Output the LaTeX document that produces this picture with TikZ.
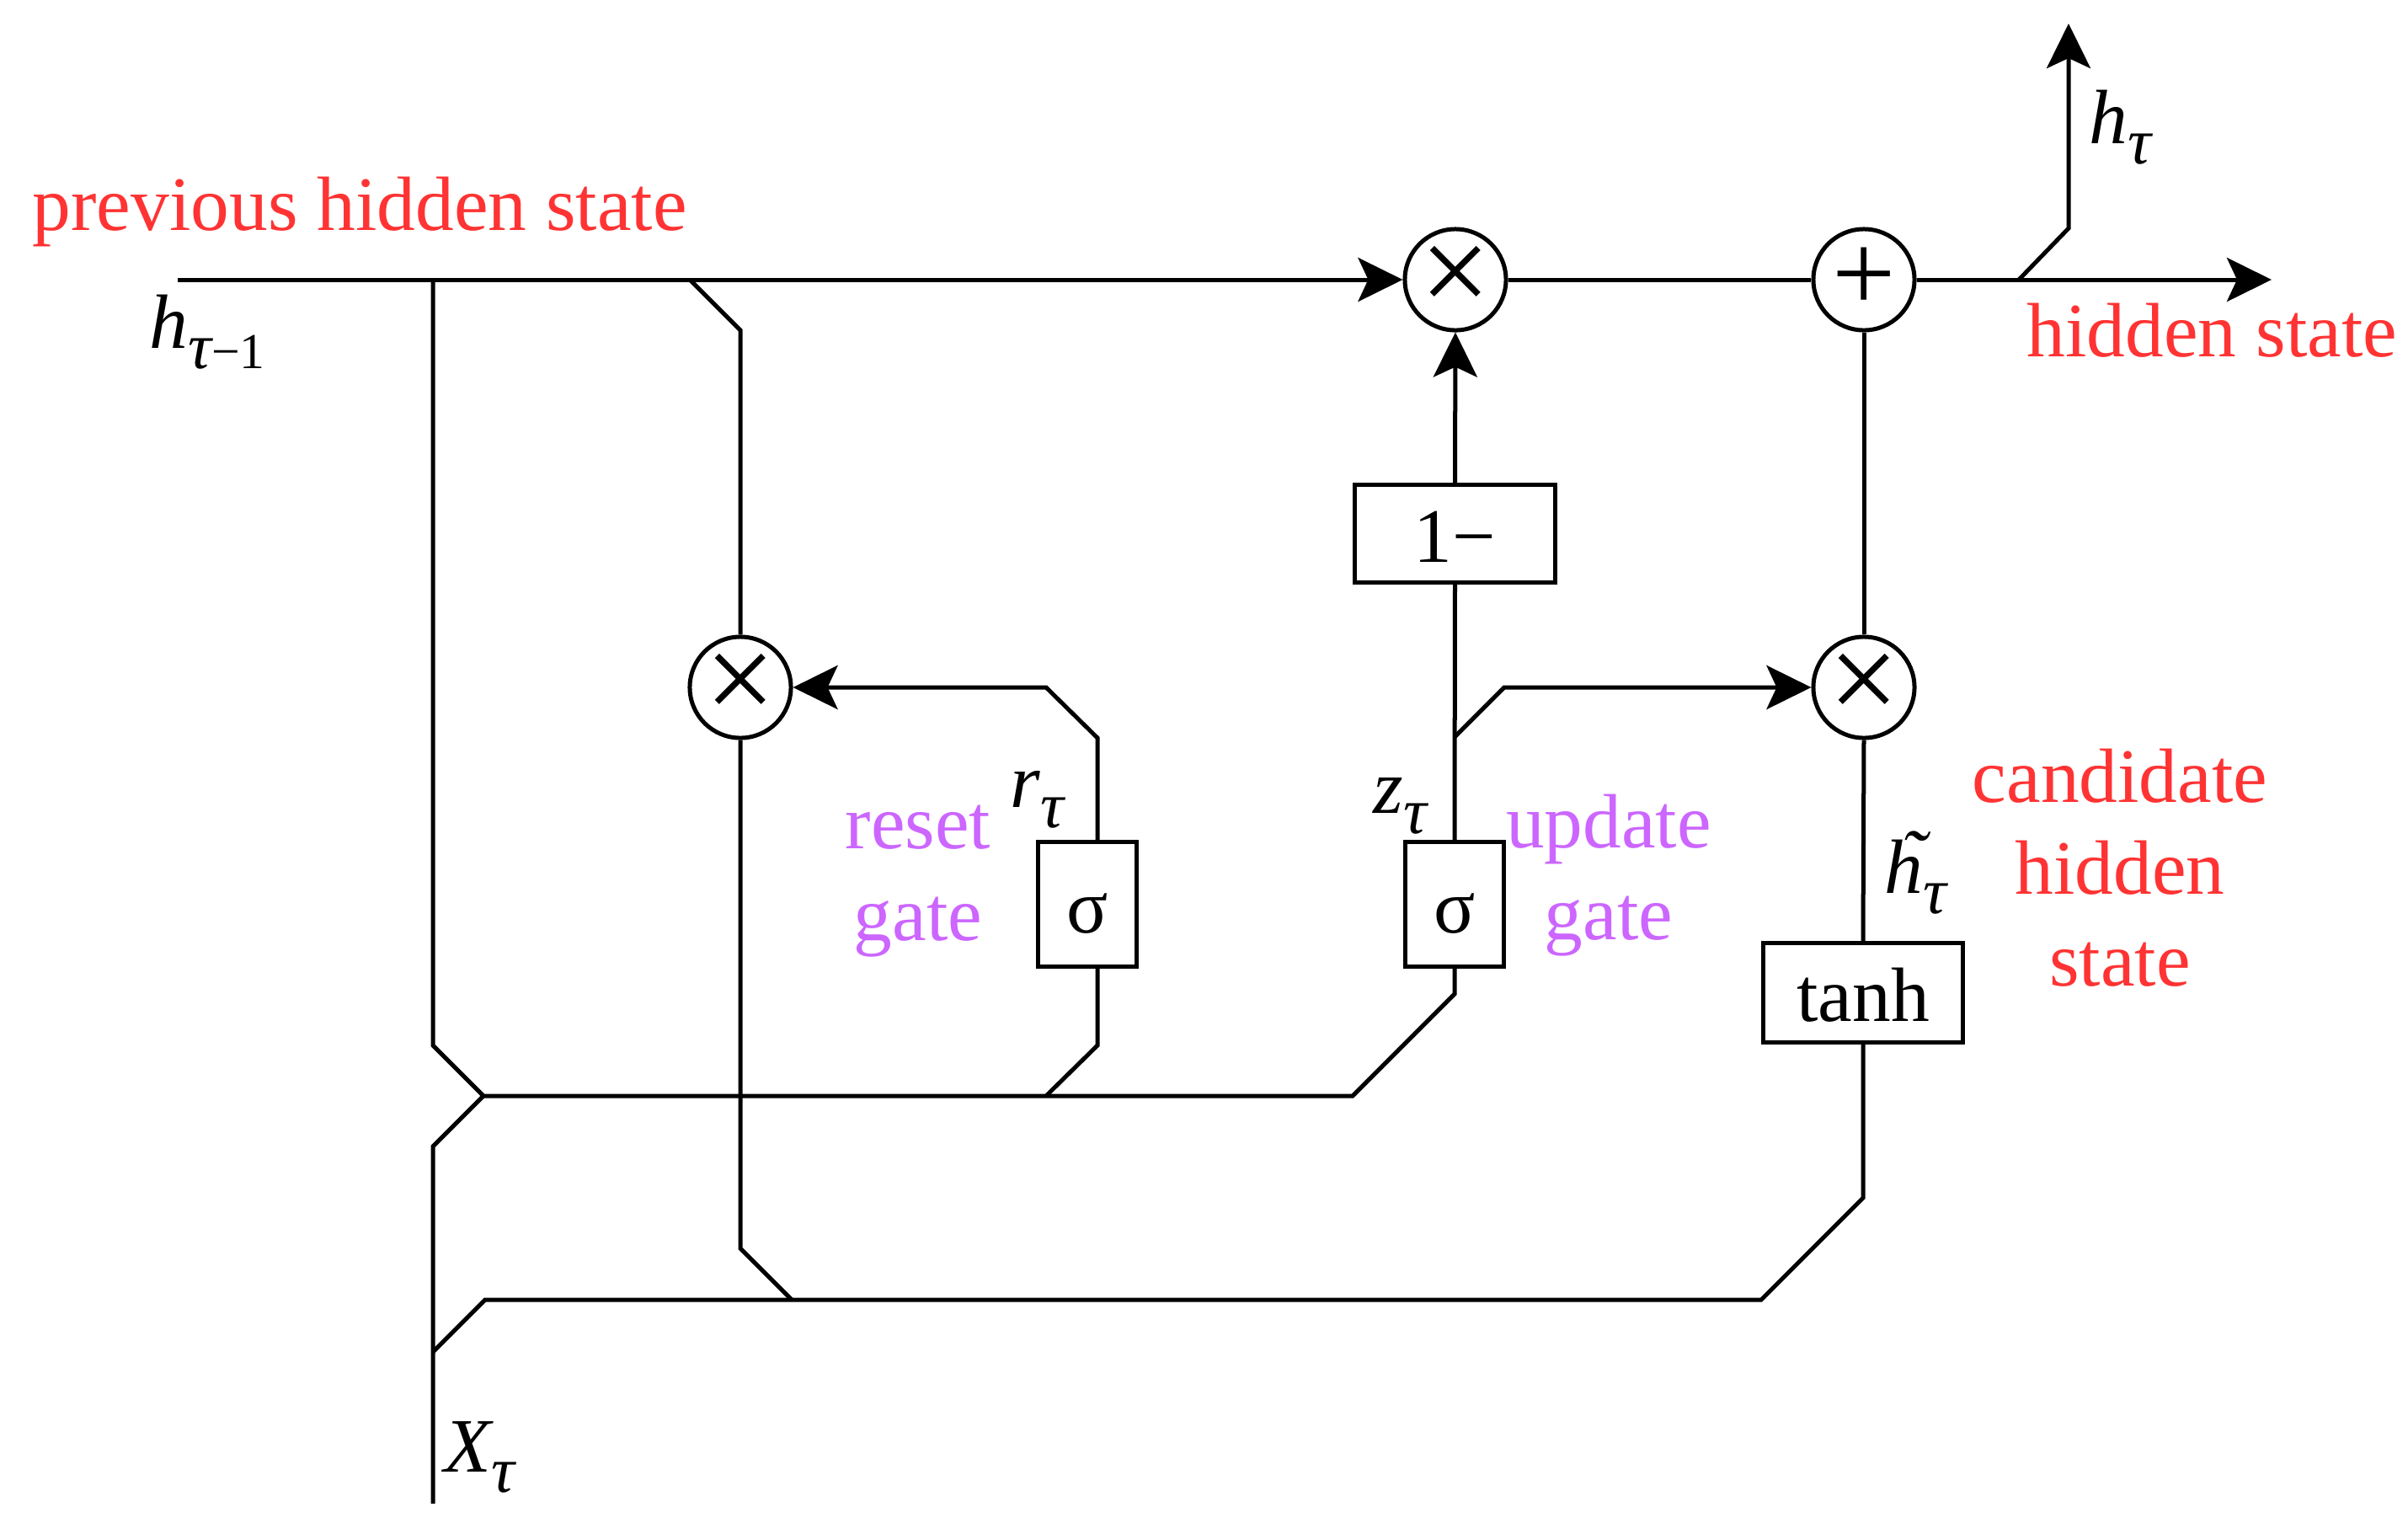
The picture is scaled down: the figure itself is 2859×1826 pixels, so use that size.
\documentclass[tikz,border=0pt]{standalone}
\usepackage{fontspec}
\setmainfont{Liberation Serif}
\usetikzlibrary{arrows.meta}
\definecolor{lblred}{RGB}{255,51,51}
\definecolor{lblpurple}{RGB}{204,102,255}
\newcommand\tausub[1]{\raisebox{-7pt}{\fontsize{22}{22}\selectfont\itshape τ\fontsize{17}{17}\selectfont\upshape #1}}
\tikzset{
  ln/.style={line width=0.05cm, line join=miter},
  arr/.style={ln, -{Stealth[length=0.53cm, width=0.52cm, inset=0.12cm]}},
  opc/.style={circle, draw, line width=0.05cm, minimum size=1.2cm, inner sep=0pt},
  mulc/.style={opc, font=\fontsize{42}{42}\selectfont},
  addc/.style={opc, font=\fontsize{38}{38}\selectfont},
  fbx/.style={rectangle, draw, line width=0.05cm, inner sep=0pt, fill=white,
    font=\fontsize{26}{26}\selectfont, text height=19.5pt, text depth=0pt},
  lbl/.style={inner sep=0pt, font=\fontsize{26}{31}\selectfont},
  mlbl/.style={inner sep=0pt, anchor=base west, font=\fontsize{26}{26}\selectfont},
}
\begin{document}
\begin{tikzpicture}[x=0.01cm, y=-0.01cm]
\useasboundingbox (0,0) rectangle (2859,1826);

% operation nodes
\node[mulc] (mt) at (1728,332) {×};
\node[addc] (ad) at (2213,332) {+};
\node[mulc] (ml) at (879,816) {×};
\node[mulc] (mr) at (2213,816) {×};
\node[fbx, minimum width=2.38cm, minimum height=1.16cm] (om) at (1727.5,633.5) {1−};
\node[fbx, minimum width=1.17cm, minimum height=1.48cm] (sr) at (1291,1073.5) {σ};
\node[fbx, minimum width=1.17cm, minimum height=1.48cm] (su) at (1727,1073.5) {σ};
\node[fbx, minimum width=2.37cm, minimum height=1.18cm] (th) at (2212,1178.5) {tanh};

% coordinates
\coordinate (hin) at (211,332);
\coordinate (hout) at (2697,332);
\coordinate (j1) at (514,332);
\coordinate (j2) at (819,332);
\coordinate (j3) at (2397,332);
\coordinate (hup) at (2456,28);
\coordinate (k) at (574,1301);
\coordinate (xin) at (514,1785);
\coordinate (rx) at (1303,0);
\coordinate (zb) at (1727,875);

% connectors
\draw[arr] (hin) -- (mt.west);
\draw[ln] (mt.east) -- (ad.west);
\draw[arr] (ad.east) -- (hout);
\draw[arr] (j3) -- (2456,271) -- (hup);
\draw[ln] (j1) -- (514,1241) -- (k) -- (1606,1301) -- (1727,1180) -- (su.south);
\draw[ln] (k) -- (514,1361) -- (xin);
\draw[ln] (sr.south -| rx) -- (1303,1241) -- (1242,1301);
\draw[arr] (sr.north -| rx) -- (1303,876) -- (1242,816) -- (ml.east);
\draw[ln] (j2) -- (879,392) -- (ml.north);
\draw[ln] (ml.south) -- (879,1482) -- (940,1543);
\draw[ln] (th.south) -- (2212,1422) -- (2091,1543) -- (576,1543) -- (514,1605);
\draw[ln] (su.north) -- (om.south);
\draw[arr] (om.north) -- (mt.south);
\draw[arr] (zb) -- (1786,816) -- (mr.west);
\draw[ln] (mr.north) -- (ad.south);
\draw[ln] (mr.south) -- (th.north);

% labels
\node[lbl, text=lblred, anchor=base west] (lprev) at (38,273) {previous hidden state};
\node[lbl, text=lblred, anchor=base west] (lhid) at (2406,423) {hidden state};
\node[lbl, text=lblred, anchor=base] (lcand) at (2517,952)
  {\begin{tabular}[t]{@{}c@{}}candidate\\hidden\\state\end{tabular}};
\node[lbl, text=lblpurple, anchor=base] (lreset) at (1090,1007)
  {\begin{tabular}[t]{@{}c@{}}reset\\gate\end{tabular}};
\node[lbl, text=lblpurple, anchor=base] (lupd) at (1910,1006)
  {\begin{tabular}[t]{@{}c@{}}update\\gate\end{tabular}};

\node[mlbl] (lhprev) at (177,413) {\itshape h\tausub{−1}};
\node[mlbl] (lht) at (2480,170) {\itshape h\tausub{}};
\node[mlbl] (lr) at (1199,958) {\itshape r\tausub{}};
\node[mlbl] (lz) at (1630,965) {\itshape z\tausub{}};
\node[mlbl] (lhc) at (2237,1060) {\itshape\makebox[0pt][l]{\hspace{0.2em}\raisebox{0.13em}{\char"02DC}}h\tausub{}};
\node[mlbl] (lx) at (527,1747) {\itshape X\tausub{}};
\end{tikzpicture}
\end{document}
